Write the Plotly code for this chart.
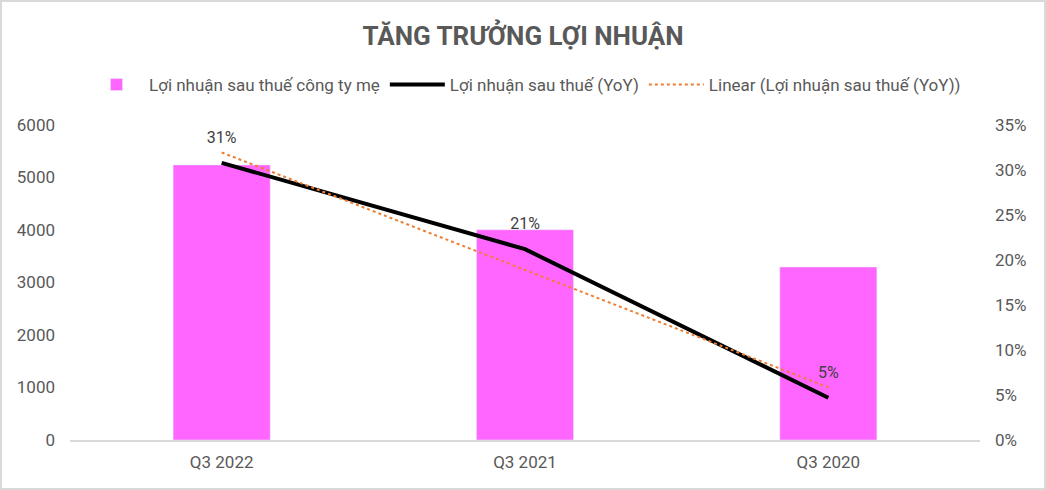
import numpy as np
import plotly.graph_objs as go

# chart data
quarters = ['Q3 2022', 'Q3 2021', 'Q3 2020']
profit_parent = [5240, 4005, 3295]          # Lợi nhuận sau thuế công ty mẹ
profit_yoy = [0.308, 0.212, 0.047]          # Lợi nhuận sau thuế (YoY)
yoy_labels = ['31%', '21%', '5%']

# Excel-style linear trendline of the YoY series
idx = np.arange(len(quarters))
slope, intercept = np.polyfit(idx, profit_yoy, 1)
trend = list(intercept + slope * idx)

FONT = 'Roboto, Open Sans, sans-serif'
GREY = '#595959'

fig = go.Figure()
fig.add_trace(go.Bar(
    x=quarters,
    y=profit_parent,
    name='Lợi nhuận sau thuế công ty mẹ',
    marker_color='#FF66FF',
    yaxis='y',
))
fig.add_trace(go.Scatter(
    x=quarters,
    y=profit_yoy,
    name='Lợi nhuận sau thuế (YoY)',
    mode='lines+markers+text',
    text=yoy_labels,
    textposition='top center',
    textfont=dict(size=16, color='#404040', family=FONT),
    marker=dict(size=24, color='rgba(0,0,0,0)'),
    line=dict(color='black', width=4),
    yaxis='y2',
))
fig.add_trace(go.Scatter(
    x=quarters,
    y=trend,
    name='Linear (Lợi nhuận sau thuế (YoY))',
    mode='lines',
    line=dict(color='#ED7D31', width=2, dash='dot'),
    yaxis='y2',
))

# light grey frame round the whole chart
l, r, t, b = 70, 66, 125, 50
pw, ph = 1046 - l - r, 490 - t - b
fig.add_shape(
    type='rect', xref='paper', yref='paper',
    x0=-(l - 1) / pw, x1=1 + (r - 1) / pw,
    y0=-(b - 1) / ph, y1=1 + (t - 1) / ph,
    line=dict(color='#D9D9D9', width=2),
)

fig.update_layout(
    width=1046,
    height=490,
    margin=dict(l=l, r=r, t=t, b=b),
    plot_bgcolor='white',
    paper_bgcolor='white',
    font=dict(family=FONT, size=17, color=GREY),
    title=dict(
        text='<b>TĂNG TRƯỞNG LỢI NHUẬN</b>',
        x=0.5, xanchor='center',
        y=1 - 36 / 490, yanchor='middle',
        font=dict(size=26, color=GREY, family=FONT),
    ),
    legend=dict(
        orientation='h',
        x=0.5, xanchor='center',
        y=1 + 40 / ph, yanchor='middle',
        font=dict(size=17, color=GREY),
        itemwidth=55,
    ),
    bargap=0.68,
    xaxis=dict(
        showgrid=False,
        showline=True,
        linecolor='#D9D9D9',
        linewidth=2,
        ticks='',
        tickfont=dict(size=17, color=GREY),
        ticklabelstandoff=6,
    ),
    yaxis=dict(
        range=[0, 6000],
        dtick=1000,
        showgrid=False,
        zeroline=False,
        tickfont=dict(size=17, color=GREY),
        ticklabelstandoff=14,
    ),
    yaxis2=dict(
        range=[0, 0.35],
        dtick=0.05,
        tickformat='.0%',
        overlaying='y',
        side='right',
        showgrid=False,
        zeroline=False,
        tickfont=dict(size=17, color=GREY),
        ticklabelstandoff=14,
    ),
)

# the page is photographed edge to edge, so drop the browser's default body margin
fig.write_html(
    'out.html',
    config={'displayModeBar': False},
    post_script="document.body.style.margin='0';",
)
